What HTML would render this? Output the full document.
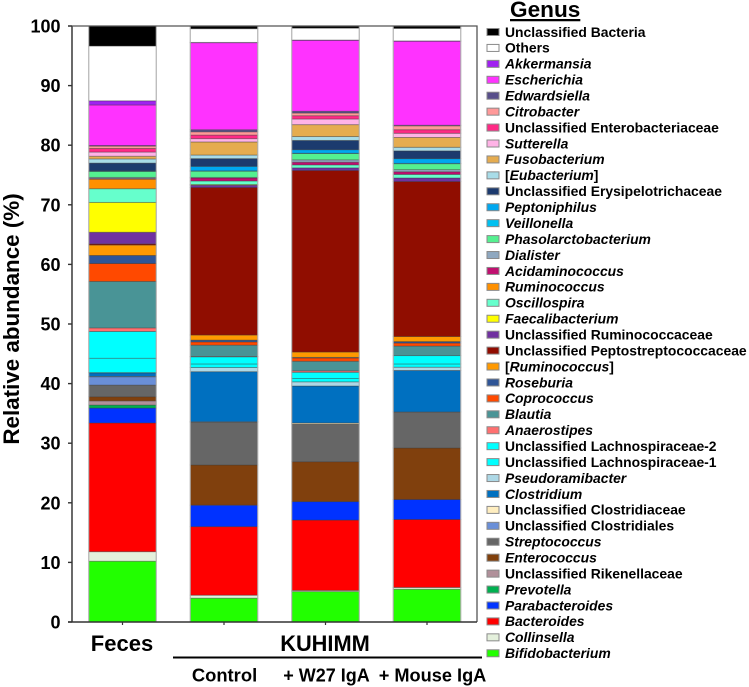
<!DOCTYPE html>
<html lang="en">
<head>
<meta charset="utf-8">
<title>Relative abundance by genus</title>
<style>
html,body{margin:0;padding:0;background:#fff;}
svg{display:block;font-family:"Liberation Sans",Arial,sans-serif;font-weight:bold;}
</style>
</head>
<body>
<svg id="chart" xmlns="http://www.w3.org/2000/svg" width="749" height="687" viewBox="0 0 749 687">
  <defs><filter id="soft" x="-5%" y="-5%" width="110%" height="110%"><feGaussianBlur stdDeviation="0.35"/></filter></defs>
  <g id="bars" filter="url(#soft)"></g>
  <g id="axes"></g>
  <text transform="translate(19,319) rotate(-90)" text-anchor="middle" font-size="22.4" fill="#000">Relative abundance (%)</text>
  <text x="122" y="651" text-anchor="middle" font-size="22" fill="#000">Feces</text>
  <text x="325" y="651" text-anchor="middle" font-size="21.8" fill="#000">KUHIMM</text>
  <rect x="173" y="656.5" width="309" height="2" fill="#000"/>
  <text x="224.5" y="681.5" text-anchor="middle" font-size="18.4" fill="#000">Control</text>
  <text x="326.5" y="681.5" text-anchor="middle" font-size="18" fill="#000">+ W27 IgA</text>
  <text x="432.5" y="681.5" text-anchor="middle" font-size="18.2" fill="#000">+ Mouse IgA</text>
  <text x="510" y="17" font-size="22.6" fill="#000" text-decoration="underline">Genus</text>
  <g id="legend"></g>
</svg>
<script>
// Categories, bottom of the stack first
const genera = ["Bifidobacterium","Collinsella","Bacteroides","Parabacteroides","Prevotella","Unclassified Rikenellaceae","Enterococcus","Streptococcus","Unclassified Clostridiales","Unclassified Clostridiaceae","Clostridium","Pseudoramibacter","Unclassified Lachnospiraceae-1","Unclassified Lachnospiraceae-2","Anaerostipes","Blautia","Coprococcus","Roseburia","[Ruminococcus]","Unclassified Peptostreptococcaceae","Unclassified Ruminococcaceae","Faecalibacterium","Oscillospira","Ruminococcus","Acidaminococcus","Dialister","Phasolarctobacterium","Veillonella","Peptoniphilus","Unclassified Erysipelotrichaceae","[Eubacterium]","Fusobacterium","Sutterella","Unclassified Enterobacteriaceae","Citrobacter","Edwardsiella","Escherichia","Akkermansia","Others","Unclassified Bacteria"];
const colors = ["#22ff00","#e4f0dc","#ff0000","#0033ff","#00b050","#b0909a","#80400c","#666666","#6a8fd8","#ffeec0","#0070c0","#add8e6","#00ffff","#00ffff","#ff7070","#4a9496","#ff4a00","#2f5597","#ff9900","#900c00","#7030a0","#ffff00","#66ffcc","#ff9000","#c01070","#8fa8c0","#55f090","#00c0f0","#00a8f0","#1c3a6e","#a8dce8","#e5ac50","#ffb3e6","#ff2a85","#ff9999","#584f8a","#ff33ff","#a020f0","#ffffff","#000000"];
const feces = [10.2,1.6,21.6,2.5,.5,.7,.7,1.95,1.4,.05,.6,.05,2.4,4.5,.6,7.8,3.0,1.35,1.75,.2,1.95,5.0,2.3,1.6,.1,.2,1.0,.05,.05,1.3,.7,.45,.7,.6,.4,.1,6.8,.7,9.2,3.35];
const control = [4.0,.5,11.5,3.6,0,0,6.75,7.2,0,.05,8.4,.7,.6,1.2,.05,1.9,.55,.3,.85,24.75,.4,.1,.6,0,.5,.1,1.05,.05,.75,1.3,.6,2.2,.55,.6,.55,.35,14.6,.05,2.3,.45];
const w27 = [5.1,.2,11.8,3.1,0,0,6.7,6.3,0,.2,6.2,.7,.55,1.05,.25,1.6,.55,.1,.9,30.45,.45,0,.5,0,.45,.4,1.05,.05,.6,1.55,.65,2.0,.95,.55,.45,.3,11.9,.05,2.0,.35];
const mouse = [5.5,.3,11.4,3.35,0,0,8.65,6.05,0,0,6.95,.55,.55,1.4,0,1.6,.5,.25,.85,26,.6,0,.6,0,.45,.35,1.0,.05,.8,1.3,.6,1.65,.7,.6,.65,.1,14.1,.05,2.1,.4];
const groups = ["feces","control","w27","mouse"];
const groupValues = [feces,control,w27,mouse];
const yTicks = [0,10,20,30,40,50,60,70,80,90,100];

const NS = "http://www.w3.org/2000/svg";
const plot = {left:72,right:477,top:26,bottom:622,barW:67.5,firstCenter:122.5,step:101.5};
const yScale = v => plot.bottom - (plot.bottom - plot.top) * v / 100;
const xScale = i => plot.firstCenter + plot.step * i;
function make(tag, parent, attrs){
  const el = document.createElementNS(NS, tag);
  for (const k in attrs) el.setAttribute(k, attrs[k]);
  parent.appendChild(el);
  return el;
}
const barsG = document.getElementById("bars");
const axesG = document.getElementById("axes");
const legendG = document.getElementById("legend");

groupValues.forEach((vals, g) => {
  let cum = 0;
  const x = xScale(g) - plot.barW / 2;
  vals.forEach((v, s) => {
    if (v <= 0) return;
    const y1 = yScale(cum + v), y0 = yScale(cum);
    const r = make("rect", barsG, {x:x, y:y1, width:plot.barW, height:y0 - y1, fill:colors[s], stroke:"#3a3a3a", "stroke-opacity":"0.42", "stroke-width":"0.9"});
    
    
    cum += v;
  });
  const edge = make("rect", barsG, {x:x, y:yScale(cum), width:plot.barW, height:plot.bottom - yScale(cum), fill:"none", stroke:"#b4b4b4", "stroke-width":"1"});
  
  
});

const frame = make("path", axesG, {d:`M${plot.left} ${plot.top}V${plot.bottom}`, stroke:"#444", "stroke-width":"1.6", fill:"none"});


const frameTop = make("path", axesG, {d:`M${plot.left - 4} ${plot.top}H${plot.right}V${plot.bottom}`, stroke:"#555", "stroke-width":"1.3", fill:"none"});


const xLine = make("path", axesG, {d:`M${plot.left - 4} ${plot.bottom}H${plot.right}`, stroke:"#333", "stroke-width":"1.6", fill:"none"});



yTicks.forEach(t => {
  const y = yScale(t);
  const tick = make("line", axesG, {x1:plot.left - 4, x2:plot.left, y1:y, y2:y, stroke:"#333", "stroke-width":"1.4"});
  
  
  const lab = make("text", axesG, {x:60.5, y:y + 6.5, "text-anchor":"end", "font-size":"18", fill:"#000"});
  
  
  lab.textContent = t;
});
groups.forEach((name, g) => {
  const x = xScale(g);
  const tick = make("line", axesG, {x1:x, x2:x, y1:plot.bottom, y2:plot.bottom + 3, stroke:"#333", "stroke-width":"1.2"});
  
  
});

const isPlain = n => n.startsWith("Unclassified") || n === "Others";
const legendOrder = genera.map((n, i) => i).reverse();
legendOrder.forEach((s, row) => {
  const y = 32 + row * 15.93;
  const sw = make("rect", legendG, {x:487, y:y - 3.5, width:12, height:7, fill:colors[s], stroke:"#8a8a8a", "stroke-width":"1"});
  
  
  const t = make("text", legendG, {x:505, y:y + 4.8, "font-size":"13.9", fill:"#000"});
  
  
  const n = genera[s];
  if (isPlain(n)) {
    t.textContent = n;
  } else if (n[0] === "[") {
    make("tspan", t, {}).textContent = "[";
    make("tspan", t, {"font-style":"italic"}).textContent = n.slice(1, -1);
    make("tspan", t, {}).textContent = "]";
  } else {
    t.setAttribute("font-style", "italic");
    t.textContent = n;
  }
});
</script>
</body>
</html>
